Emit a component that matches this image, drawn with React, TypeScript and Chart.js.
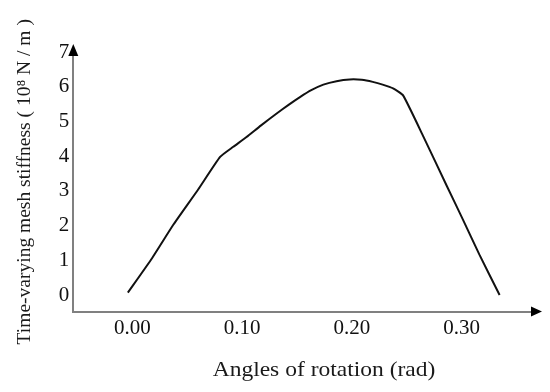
import React, { useEffect, useRef } from "react";
import { Chart, registerables } from "chart.js";

Chart.register(...registerables);

const angles = [-0.004, 0.018, 0.0375, 0.06, 0.08, 0.092, 0.104, 0.117, 0.1315, 0.142, 0.1527, 0.163, 0.174, 0.186, 0.198, 0.209, 0.219, 0.228, 0.2375, 0.2466, 0.265, 0.286, 0.301, 0.316, 0.3345];
const stiffness = [0.07, 1.06, 2.03, 3.04, 3.98, 4.27, 4.55, 4.88, 5.23, 5.47, 5.7, 5.9, 6.06, 6.16, 6.21, 6.2, 6.14, 6.06, 5.95, 5.75, 4.57, 3.17, 2.18, 1.17, 0.0];
const xTicks = [0, 0.1, 0.2, 0.3];
const yTicks = [0, 1, 2, 3, 4, 5, 6, 7];
const xTitle = "Angles of rotation (rad)";
const yTitle = "Time-varying mesh stiffness ( 10\u2078 N / m )";

const FONT = "'Liberation Serif', 'Times New Roman', serif";

const arrowPlugin = {
  id: "axisArrows",
  afterDraw(chart: any) {
    const { ctx, chartArea } = chart;
    const { left, right, top, bottom } = chartArea;
    ctx.save();
    ctx.fillStyle = "#000";
    // y arrow
    ctx.beginPath();
    ctx.moveTo(left, top - 8);
    ctx.lineTo(left - 5, top + 4);
    ctx.lineTo(left + 5, top + 4);
    ctx.closePath();
    ctx.fill();
    // x arrow
    ctx.beginPath();
    ctx.moveTo(right + 10, bottom);
    ctx.lineTo(right - 1, bottom - 5);
    ctx.lineTo(right - 1, bottom + 5);
    ctx.closePath();
    ctx.fill();
    // x title (slightly widened like the reference)
    ctx.translate(324, 370);
    ctx.scale(1.12, 1);
    ctx.fillStyle = "#1a1a1a";
    ctx.font = `21px ${FONT}`;
    ctx.textAlign = "center";
    ctx.textBaseline = "middle";
    ctx.fillText(xTitle, 0, 0);
    ctx.restore();
  },
};

export default function App() {
  const ref = useRef<HTMLCanvasElement | null>(null);
  useEffect(() => {
    document.body.style.margin = "0";
    const canvas = ref.current;
    if (!canvas) return;
    const chart = new Chart(canvas, {
      type: "line",
      data: {
        datasets: [
          {
            data: angles.map((a, i) => ({ x: a, y: stiffness[i] })),
            borderColor: "#111",
            borderWidth: 2,
            pointRadius: 0,
            tension: 0.15,
            fill: false,
          },
        ],
      },
      options: {
        responsive: false,
        animation: false,
        layout: { padding: { top: 52, right: 18, left: 0, bottom: 0 } },
        plugins: { legend: { display: false }, tooltip: { enabled: false } },
        scales: {
          x: {
            type: "linear",
            min: -0.0537,
            max: 0.364,
            afterBuildTicks: (s: any) => {
              s.ticks = xTicks.map((v) => ({ value: v }));
            },
            afterFit: (s: any) => {
              s.height = 80.5;
            },
            grid: { display: false, drawTicks: false },
            border: { display: true, color: "#808080", width: 2 },
            ticks: {
              padding: 4,
              color: "#111",
              font: { family: FONT, size: 21 },
              maxRotation: 0,
              callback: (v: any) => Number(v).toFixed(2),
            },
          },
          y: {
            type: "linear",
            min: -0.475,
            max: 7,
            afterBuildTicks: (s: any) => {
              s.ticks = yTicks.map((v) => ({ value: v }));
            },
            afterFit: (s: any) => {
              s.width = 73.3;
            },
            grid: { display: false, drawTicks: false },
            border: { display: true, color: "#808080", width: 2 },
            ticks: {
              padding: 4,
              color: "#111",
              font: { family: FONT, size: 21 },
              callback: (v: any) => String(v),
            },
            title: {
              display: true,
              text: yTitle,
              color: "#1a1a1a",
              font: { family: FONT, size: 19.5 },
              padding: { top: 13, bottom: 0 },
            },
          },
        },
      },
      plugins: [arrowPlugin],
    });
    return () => chart.destroy();
  }, []);
  return <canvas ref={ref} width={550} height={392} style={{ display: "block" }} />;
}
